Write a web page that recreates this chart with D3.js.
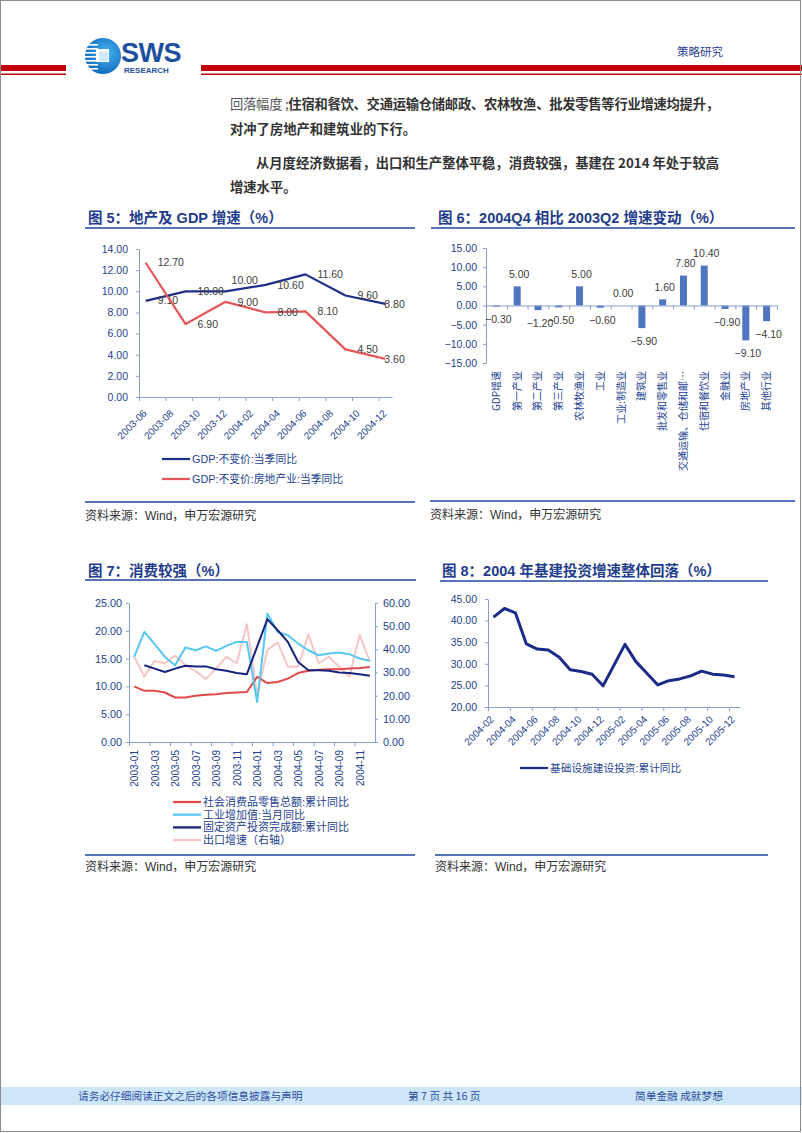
<!DOCTYPE html>
<html><head><meta charset="utf-8">
<script src="https://cdn.jsdelivr.net/npm/d3@7"></script>
<style>html,body{margin:0;padding:0;background:#fff;} svg{display:block;}</style>
</head><body>
<svg id="page" width="802" height="1133"></svg>
<script>
// ---------------- DATA ----------------
// Fig 5
const fig5Dates = ["2003-06","2003-09","2003-12","2004-03","2004-06","2004-09","2004-12"];
const fig5Gdp = [9.10, 10.00, 10.00, 10.60, 11.60, 9.60, 8.80];
const fig5RealEstate = [12.70, 6.90, 9.00, 8.00, 8.10, 4.50, 3.60];
const fig5TickLabels = ["2003-06","2003-08","2003-10","2003-12","2004-02","2004-04","2004-06","2004-08","2004-10","2004-12"];
const fig5YTicks = [0, 2, 4, 6, 8, 10, 12, 14];
const fig5Legend = ["GDP:不变价:当季同比", "GDP:不变价:房地产业:当季同比"];
// Fig 6
const fig6Categories = ["GDP增速","第一产业","第二产业","第三产业","农林牧渔业","工业","工业:制造业","建筑业","批发和零售业","交通运输、仓储和邮…","住宿和餐饮业","金融业","房地产业","其他行业"];
const fig6Values = [-0.30, 5.00, -1.20, -0.50, 5.00, -0.60, 0.00, -5.90, 1.60, 7.80, 10.40, -0.90, -9.10, -4.10];
const fig6YTicks = [-15, -10, -5, 0, 5, 10, 15];
// Fig 7 (monthly 2003-01 .. 2004-12)
const fig7Months = ["2003-01","2003-02","2003-03","2003-04","2003-05","2003-06","2003-07","2003-08","2003-09","2003-10","2003-11","2003-12",
                    "2004-01","2004-02","2004-03","2004-04","2004-05","2004-06","2004-07","2004-08","2004-09","2004-10","2004-11","2004-12"];
const fig7Retail = [10.0, 9.2, 9.2, 8.9, 8.0, 8.0, 8.3, 8.5, 8.6, 8.8, 8.9, 9.0, 11.7, 10.6, 10.8, 11.4, 12.4, 12.8, 13.0, 13.1, 13.1, 13.2, 13.3, 13.5];
const fig7Industry = [15.3, 19.8, 17.6, 15.3, 13.8, 17.0, 16.5, 17.2, 16.4, 17.3, 18.0, 18.0, 7.2, 23.1, 19.8, 19.2, 17.7, 16.5, 15.6, 15.9, 16.1, 15.8, 15.0, 14.6];
const fig7FixedInvest = [null, 13.8, 13.2, 12.6, 13.2, 13.7, 13.6, 13.6, 13.1, 12.8, 12.4, 12.2, null, 22.1, 20.1, 18.0, 14.4, 12.9, 12.9, 12.8, 12.5, 12.4, 12.2, 11.9];
const fig7Export = [36.8, 28.2, 35.0, 34.0, 37.2, 33.2, 30.6, 27.2, 31.8, 36.8, 34.0, 50.8, 20.3, 39.7, 43.0, 32.5, 32.5, 46.5, 34.0, 36.8, 32.5, 28.2, 46.2, 34.7];
const fig7TickLabels = ["2003-01","2003-03","2003-05","2003-07","2003-09","2003-11","2004-01","2004-03","2004-05","2004-07","2004-09","2004-11"];
const fig7LeftTicks = [0, 5, 10, 15, 20, 25];
const fig7RightTicks = [0, 10, 20, 30, 40, 50, 60];
const fig7Legend = ["社会消费品零售总额:累计同比","工业增加值:当月同比","固定资产投资完成额:累计同比","出口增速（右轴）"];
// Fig 8 (monthly 2004-02 .. 2005-12)
const fig8Months = ["2004-02","2004-03","2004-04","2004-05","2004-06","2004-07","2004-08","2004-09","2004-10","2004-11","2004-12",
                    "2005-01","2005-02","2005-03","2005-04","2005-05","2005-06","2005-07","2005-08","2005-09","2005-10","2005-11","2005-12"];
const fig8Infra = [40.8, 42.8, 41.8, 34.6, 33.4, 33.2, 31.5, 28.6, 28.2, 27.6, 24.9, null, 34.5, 30.5, 27.8, 25.1, 26.1, 26.5, 27.2, 28.3, 27.6, 27.4, 27.0];
const fig8TickLabels = ["2004-02","2004-04","2004-06","2004-08","2004-10","2004-12","2005-02","2005-04","2005-06","2005-08","2005-10","2005-12"];
const fig8YTicks = [20, 25, 30, 35, 40, 45];
const fig8Legend = ["基础设施建设投资:累计同比"];

// ---------------- STYLE ----------------
const NUM = "'Liberation Sans', Arial, 'Noto Sans CJK SC', sans-serif";
const CJK = "'Noto Sans CJK SC', 'Noto Sans CJK JP', sans-serif";
const AXIS_COLOR = "#86a0d4";
const LABEL_BLUE = "#233f8f";
const TITLE_BLUE = "#1f3c8c";
const RULE_BLUE = "#5674b8";
const VAL_COLOR = "#404040";

const svg = d3.select("#page");
svg.append("rect").attr("x",0).attr("y",0).attr("width",802).attr("height",1133).attr("fill","#fff");

function monthRange(a, b) {
  const out = []; let [y, m] = a.split("-").map(Number); const [by, bm] = b.split("-").map(Number);
  while (y < by || (y === by && m <= bm)) { out.push(y + "-" + String(m).padStart(2, "0")); m++; if (m > 12) { m = 1; y++; } }
  return out;
}
function styleAxis(g, fs) {
  g.attr("font-family", NUM).attr("font-size", fs || 10.5);
  g.select(".domain").attr("stroke", AXIS_COLOR).attr("stroke-width", 1);
  g.selectAll(".tick line").attr("stroke", AXIS_COLOR);
  g.selectAll(".tick text").attr("fill", LABEL_BLUE);
}
const fmt2 = d3.format(".2f");

// ---------------- HEADER ----------------
const hdr = svg.append("g");
hdr.append("rect").attr("x",0).attr("y",65).attr("width",66).attr("height",6).attr("fill","#c0000b");
hdr.append("rect").attr("x",0).attr("y",73.5).attr("width",66).attr("height",1.5).attr("fill","#c0000b");
hdr.append("rect").attr("x",201).attr("y",65).attr("width",601).attr("height",6).attr("fill","#c0000b");
hdr.append("rect").attr("x",201).attr("y",73.5).attr("width",601).attr("height",1.5).attr("fill","#c0000b");
// logo
const defs = svg.append("defs");
const grad = defs.append("radialGradient").attr("id","lg").attr("cx","60%").attr("cy","40%").attr("r","70%");
grad.append("stop").attr("offset","0%").attr("stop-color","#45b4f0");
grad.append("stop").attr("offset","100%").attr("stop-color","#0b63b8");
hdr.append("circle").attr("cx",103).attr("cy",56).attr("r",18).attr("fill","url(#lg)");
[44,48,52,56,60,64,68].forEach(yy => {
  hdr.append("rect").attr("x",85).attr("y",yy).attr("width",13).attr("height",1.6).attr("fill","#fff");
});
hdr.append("rect").attr("x",96).attr("y",49).attr("width",13).attr("height",13).attr("fill","#fff");
hdr.append("rect").attr("x",99).attr("y",52).attr("width",9).attr("height",9).attr("fill","#cfe8fa");
hdr.append("text").attr("x",121).attr("y",62).attr("font-family",NUM).attr("font-weight","bold")
  .attr("font-size",27).attr("fill","#1c4f9e").attr("letter-spacing",-0.5).text("SWS");
hdr.append("text").attr("x",124).attr("y",72.5).attr("font-family",NUM).attr("font-weight","bold")
  .attr("font-size",8).attr("fill","#1c4f9e").text("RESEARCH");
hdr.append("text").attr("x",677).attr("y",56).attr("font-family",CJK).attr("font-size",11.5)
  .attr("fill","#2c3f8f").text("策略研究");

// ---------------- BODY TEXT ----------------
const body = svg.append("g").attr("font-family", CJK).attr("font-size", 13.3).attr("fill", "#333");
const l1 = body.append("text").attr("x",230).attr("y",109).attr("textLength",489).attr("lengthAdjust","spacing");
l1.append("tspan").attr("fill","#555").text("回落幅度 ;");
l1.append("tspan").attr("font-weight","bold").text("住宿和餐饮、交通运输仓储邮政、农林牧渔、批发零售等行业增速均提升，");
body.append("text").attr("x",230).attr("y",134).attr("font-weight","bold").text("对冲了房地产和建筑业的下行。");
body.append("text").attr("x",256).attr("y",168).attr("font-weight","bold").attr("textLength",463).attr("lengthAdjust","spacing")
  .text("从月度经济数据看，出口和生产整体平稳，消费较强，基建在 2014 年处于较高");
body.append("text").attr("x",230).attr("y",192).attr("font-weight","bold").text("增速水平。");

// ---------------- HELPERS ----------------
function title(x, y, txt, x1, x2, ly) {
  svg.append("text").attr("x",x).attr("y",y).attr("font-family",NUM).attr("font-weight","bold")
    .attr("font-size",14.5).attr("fill",TITLE_BLUE).text(txt);
  svg.append("line").attr("x1",x1).attr("x2",x2).attr("y1",ly).attr("y2",ly).attr("stroke",RULE_BLUE).attr("stroke-width",2);
}
function source(x, y, x1, x2, ly) {
  svg.append("line").attr("x1",x1).attr("x2",x2).attr("y1",ly).attr("y2",ly).attr("stroke",RULE_BLUE).attr("stroke-width",2);
  svg.append("text").attr("x",x).attr("y",y).attr("font-family",NUM).attr("font-size",12).attr("fill","#333")
    .text("资料来源：Wind，申万宏源研究");
}
function legendRow(g, x, y, color, txt, fs, w) {
  g.append("line").attr("x1",x).attr("x2",x+(w||28)).attr("y1",y).attr("y2",y).attr("stroke",color).attr("stroke-width",2.25);
  g.append("text").attr("x",x+(w||28)+2).attr("y",y).attr("dy","0.35em").attr("font-family",NUM)
    .attr("font-size",fs).attr("fill",LABEL_BLUE).text(txt);
}

// ---------------- FIG 5 ----------------
title(88, 223, "图 5：地产及 GDP 增速（%）", 85, 415, 228);
{
  const g = svg.append("g");
  const months = monthRange("2003-06", "2004-12");
  const x = d3.scaleBand().domain(months).range([139, 392]);
  const xi = d3.scaleLinear().domain([0, months.length]).range([139, 392]);
  const y = d3.scaleLinear().domain([0, 14]).range([397, 249]);
  g.append("g").attr("transform","translate(139,0)")
    .call(d3.axisLeft(y).tickValues(fig5YTicks).tickFormat(fmt2).tickSize(3).tickSizeOuter(0).tickPadding(8))
    .call(styleAxis, 10.5);
  g.append("g").attr("transform","translate(0,397)")
    .call(d3.axisBottom(xi).tickValues(fig5TickLabels.map(l => months.indexOf(l))).tickFormat((d,i) => fig5TickLabels[i]).tickSize(4).tickSizeOuter(0))
    .call(styleAxis, 10)
    .call(a => a.selectAll(".tick text").attr("x",0).attr("y",0).attr("dy",0).attr("text-anchor","end")
      .attr("transform","translate(8,17) rotate(-45)"));
  const cx = m => x(m) + x.bandwidth() / 2;
  const line = d3.line().x(d => cx(d.m)).y(d => y(d.v));
  const series = [
    {vals: fig5Gdp, color: "#1e2f8c"},
    {vals: fig5RealEstate, color: "#e4585a"}
  ];
  series.forEach((s, si) => {
    const data = fig5Dates.map((m, i) => ({m, v: s.vals[i], i}));
    g.append("path").datum(data).attr("d", line).attr("fill","none").attr("stroke", s.color)
      .attr("stroke-width", 2.25).attr("stroke-linejoin","round");
    g.selectAll(null).data(data).enter().append("text")
      .attr("x", d => cx(d.m) + (d.i === data.length - 1 ? -1 : (si === 0 && d.i === 2 ? 6 : 12)))
      .attr("y", d => y(d.v) + (si === 0 && d.i === 2 ? -11 : 0))
      .attr("dy","0.35em").attr("font-family",NUM).attr("font-size",10.5).attr("fill",VAL_COLOR)
      .text(d => fmt2(d.v));
  });
  const lg = svg.append("g");
  legendRow(lg, 162, 459, "#1e2f8c", fig5Legend[0], 10.8);
  legendRow(lg, 162, 479, "#e4585a", fig5Legend[1], 10.8);
}
source(85, 520, 85, 415, 502);

// ---------------- FIG 6 ----------------
title(438, 223, "图 6：2004Q4 相比 2003Q2 增速变动（%）", 431, 795, 228);
{
  const g = svg.append("g");
  const x = d3.scaleBand().domain(fig6Categories).range([486, 777]);
  const xi = d3.scaleLinear().domain([0, fig6Categories.length]).range([486, 777]);
  const y = d3.scaleLinear().domain([-15, 15]).range([363, 248]);
  g.append("g").attr("transform","translate(486,0)")
    .call(d3.axisLeft(y).tickValues(fig6YTicks).tickFormat(fmt2).tickSize(3).tickSizeOuter(0).tickPadding(6))
    .call(styleAxis, 10.5);
  const bw = 7;
  g.selectAll(null).data(fig6Categories).enter().append("rect")
    .attr("x", c => x(c) + x.bandwidth()/2 - bw/2)
    .attr("y", (c, i) => y(Math.max(0, fig6Values[i])))
    .attr("width", bw)
    .attr("height", (c, i) => Math.abs(y(fig6Values[i]) - y(0)))
    .attr("fill", "#4f74c0");
  g.append("g").attr("transform", `translate(0,${y(0)})`)
    .call(d3.axisBottom(xi).tickValues(d3.range(0, fig6Categories.length + 1)).tickFormat("").tickSize(4).tickSizeOuter(0))
    .call(styleAxis, 10);
  g.selectAll(null).data(fig6Categories).enter().append("text")
    .attr("x", c => x(c) + x.bandwidth()/2 + 2)
    .attr("y", (c, i) => fig6Values[i] >= 0 ? y(fig6Values[i]) - 12 : y(fig6Values[i]) + 13)
    .attr("dy","0.35em").attr("text-anchor","middle").attr("font-family",NUM).attr("font-size",10.5).attr("fill",VAL_COLOR)
    .text((c, i) => fmt2(fig6Values[i]));
  g.append("g").attr("transform","translate(0,371)")
    .call(d3.axisBottom(x).tickSize(0).tickSizeOuter(0))
    .call(styleAxis, 10)
    .call(a => a.select(".domain").remove())
    .call(a => a.selectAll(".tick text").attr("x",0).attr("y",0).attr("dy",0).attr("text-anchor","end")
      .attr("font-family", CJK).attr("transform","translate(3.5,0) rotate(-90)"));
}
source(430, 519, 430, 795, 501);

// ---------------- FIG 7 ----------------
title(88, 576, "图 7：消费较强（%）", 85, 416, 580);
{
  const g = svg.append("g");
  const x = d3.scaleBand().domain(fig7Months).range([129, 375]);
  const xi = d3.scaleLinear().domain([0, fig7Months.length]).range([129, 375]);
  const yL = d3.scaleLinear().domain([0, 25]).range([742, 603]);
  const yR = d3.scaleLinear().domain([0, 60]).range([742, 603]);
  g.append("g").attr("transform","translate(129,0)")
    .call(d3.axisLeft(yL).tickValues(fig7LeftTicks).tickFormat(fmt2).tickSize(3).tickSizeOuter(0).tickPadding(4))
    .call(styleAxis, 10.8);
  g.append("g").attr("transform","translate(375,0)")
    .call(d3.axisRight(yR).tickValues(fig7RightTicks).tickFormat(fmt2).tickSize(3).tickSizeOuter(0).tickPadding(5))
    .call(styleAxis, 10.8);
  const bwh = x.bandwidth() / 2;
  g.append("g").attr("transform","translate(0,742)")
    .call(d3.axisBottom(xi).tickValues(fig7TickLabels.map(l => fig7Months.indexOf(l))).tickFormat((d,i) => fig7TickLabels[i]).tickSize(4).tickSizeOuter(0))
    .call(styleAxis, 10)
    .call(a => a.selectAll(".tick text").attr("x",0).attr("y",0).attr("dy",0).attr("text-anchor","end")
      .attr("transform",`translate(${bwh + 3.5},8) rotate(-90)`));
  const cx = m => x(m) + bwh;
  const series = [
    {vals: fig7Export, color: "#f6c6c6", y: yR},
    {vals: fig7Retail, color: "#e04a48", y: yL},
    {vals: fig7Industry, color: "#56c7f0", y: yL},
    {vals: fig7FixedInvest, color: "#16237c", y: yL}
  ];
  series.forEach(s => {
    const data = fig7Months.map((m, i) => ({m, v: s.vals[i]})).filter(d => d.v != null);
    g.append("path").datum(data)
      .attr("d", d3.line().x(d => cx(d.m)).y(d => s.y(d.v)))
      .attr("fill","none").attr("stroke", s.color).attr("stroke-width", 2).attr("stroke-linejoin","round");
  });
  const lg = svg.append("g");
  const cols = ["#e04a48", "#56c7f0", "#16237c", "#f6c6c6"];
  fig7Legend.forEach((t, i) => legendRow(lg, 173, 802 + i * 12.7, cols[i], t, 11));
}
source(85, 871, 85, 415, 855);

// ---------------- FIG 8 ----------------
title(442, 576, "图 8：2004 年基建投资增速整体回落（%）", 440, 768, 581);
{
  const g = svg.append("g");
  const x = d3.scaleBand().domain(fig8Months).range([488, 740]);
  const xi = d3.scaleLinear().domain([0, fig8Months.length]).range([488, 740]);
  const y = d3.scaleLinear().domain([20, 45]).range([707, 599]);
  g.append("g").attr("transform","translate(488,0)")
    .call(d3.axisLeft(y).tickValues(fig8YTicks).tickFormat(fmt2).tickSize(3).tickSizeOuter(0).tickPadding(8))
    .call(styleAxis, 10.5);
  g.append("g").attr("transform","translate(0,707)")
    .call(d3.axisBottom(xi).tickValues(fig8TickLabels.map(l => fig8Months.indexOf(l))).tickFormat((d,i) => fig8TickLabels[i]).tickSize(4).tickSizeOuter(0))
    .call(styleAxis, 10)
    .call(a => a.selectAll(".tick text").attr("x",0).attr("y",0).attr("dy",0).attr("text-anchor","end")
      .attr("transform","translate(6,13) rotate(-45)"));
  const data = fig8Months.map((m, i) => ({m, v: fig8Infra[i]})).filter(d => d.v != null);
  g.append("path").datum(data)
    .attr("d", d3.line().x(d => x(d.m) + x.bandwidth()/2).y(d => y(d.v)))
    .attr("fill","none").attr("stroke","#1b2b87").attr("stroke-width",3).attr("stroke-linejoin","round");
  const lg = svg.append("g");
  legendRow(lg, 520, 768, "#1b2b87", fig8Legend[0], 10.7);
}
source(435, 871, 435, 768, 855);

// ---------------- FOOTER ----------------
svg.append("rect").attr("x",0).attr("y",1087).attr("width",802).attr("height",18).attr("fill","#cde7f8");
const ft = svg.append("g").attr("font-family",CJK).attr("font-size",10.7).attr("fill","#2e4da0");
ft.append("text").attr("x",78).attr("y",1100).text("请务必仔细阅读正文之后的各项信息披露与声明");
ft.append("text").attr("x",408).attr("y",1100).text("第 7 页 共 16 页");
ft.append("text").attr("x",635).attr("y",1100).text("简单金融 成就梦想");
// page border
svg.append("rect").attr("x",0.5).attr("y",0.5).attr("width",800).attr("height",1131).attr("fill","none").attr("stroke","#8c8c8c");
</script>
</body></html>
